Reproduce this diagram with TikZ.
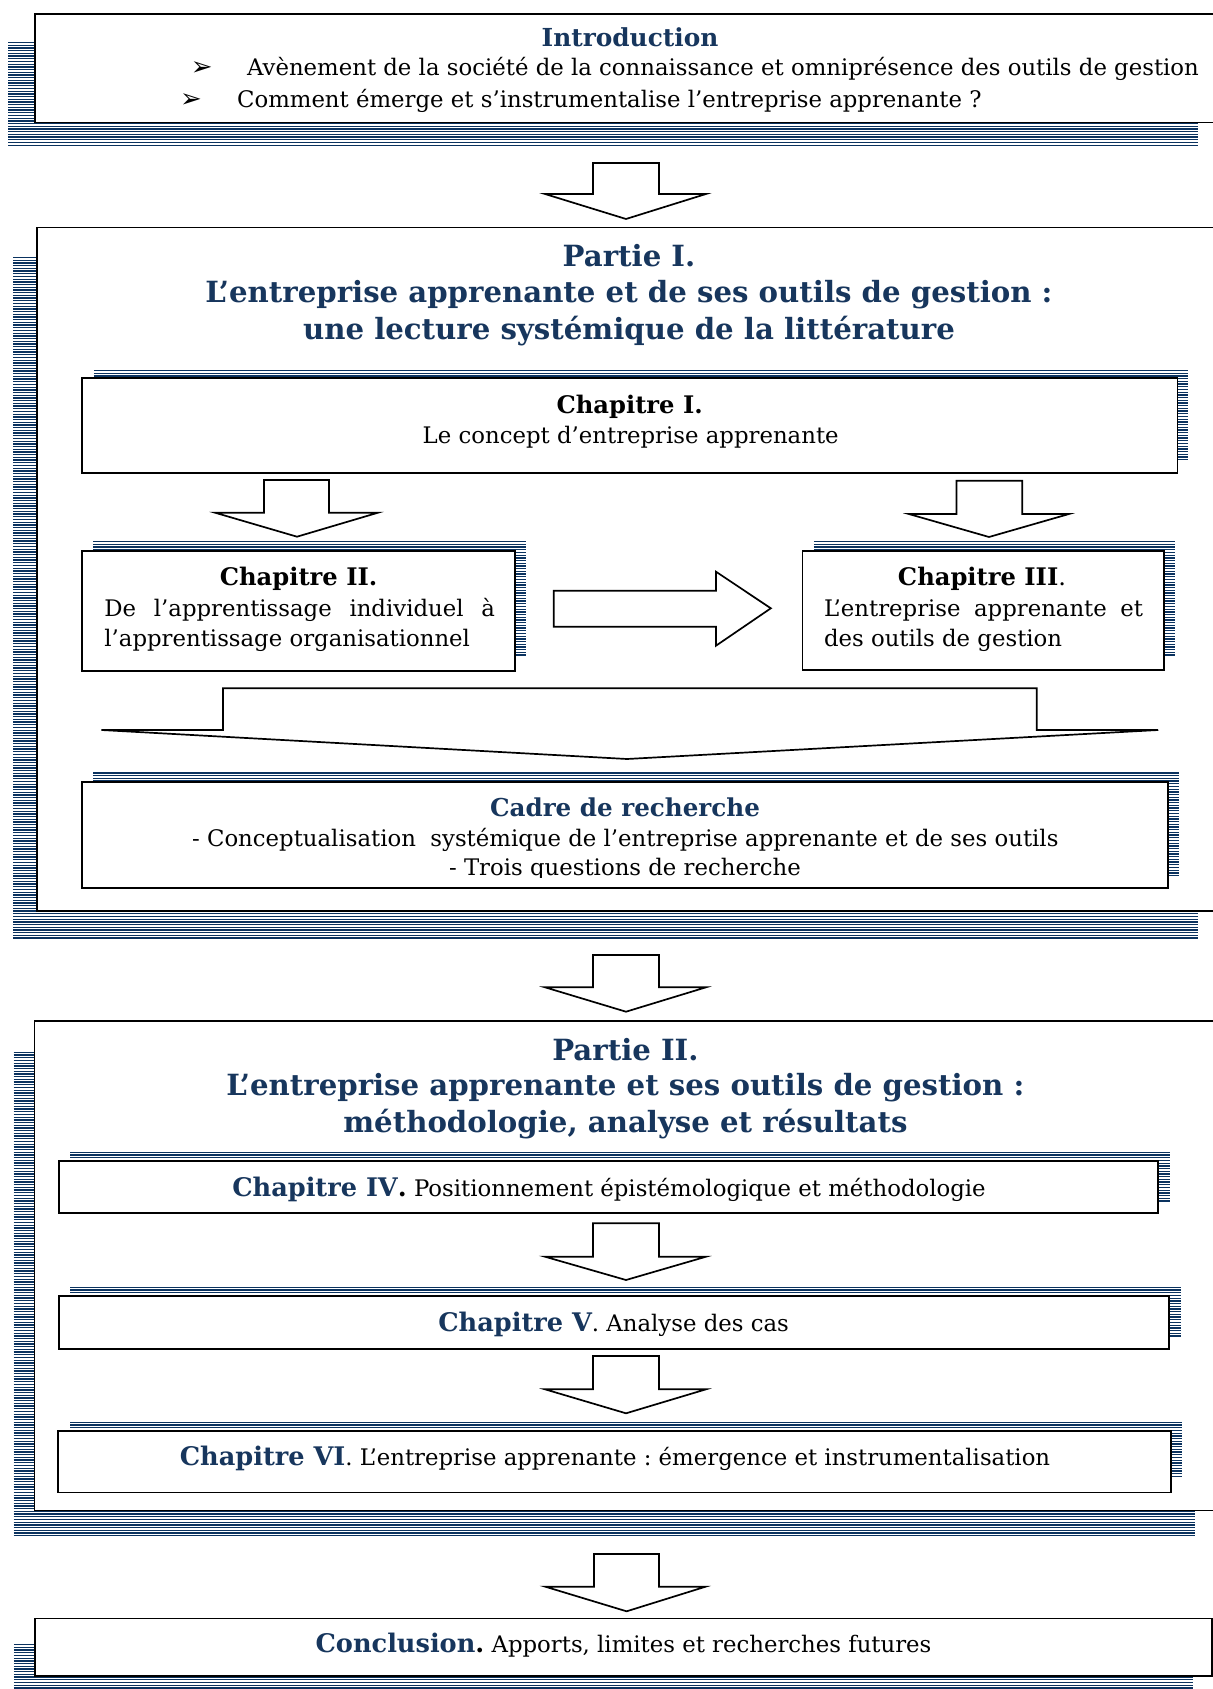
\documentclass[tikz,border=0pt]{standalone}
\usepackage{fontspec}
\setmainfont{DejaVu Serif}
\newfontfamily\symfont{DejaVu Sans}
\usetikzlibrary{fit}
\frenchspacing
\definecolor{navy}{RGB}{23,54,93}
\definecolor{stripenavy}{RGB}{10,50,95}
\newcommand\hatchrect[4]{%
  \pgfmathtruncatemacro\hn{(#4-#2-0.65)/2.7}%
  \foreach \i in {0,...,\hn}{\pgfmathsetmacro\yy{#2+0.65+2.7*\i}\draw[stripe] (#1,\yy) -- (#3,\yy);}}
\newcommand\navyhead[1]{{\fontsize{12.8}{14}\selectfont\bfseries\color{navy}#1}}
\tikzset{
  outerbox/.style={draw=black, line width=0.8pt, fill=white, inner sep=0pt},
  chapbox/.style={draw=black, line width=0.9pt, fill=white, inner sep=0pt},
  blockarrow/.style={draw=black, line width=0.85pt, fill=white, line join=miter},
  stripe/.style={draw=stripenavy, line width=0.65pt},
  txt/.style={inner sep=0pt, font=\fontsize{11.4}{13}\selectfont, anchor=base},
  txtw/.style={inner sep=0pt, font=\fontsize{11.4}{13}\selectfont, anchor=base west},
  ttl/.style={inner sep=0pt, font=\fontsize{14.6}{17}\selectfont\bfseries, text=navy, anchor=base},
  hd/.style={inner sep=0pt, font=\fontsize{12.1}{14}\selectfont\bfseries, anchor=base},
  bullet/.style={inner sep=0pt, font=\fontsize{13}{14}\symfont, anchor=base},
}
\begin{document}
\begin{tikzpicture}[x=0.5pt,y=-0.5pt]
\useasboundingbox (0,0) rectangle (1213,1689);
\clip (0,0) rectangle (1213,1689);

% ---------- Introduction ----------
\hatchrect{8}{42}{1198}{147.7}
\node[outerbox, fit={(34.7,14) (1230,122.7)}] (intro) {};
\node[hd, text=navy, font=\fontsize{12.4}{14}\selectfont\bfseries] (introT) at (630,46.7) {Introduction};
\node[bullet] (b1) at (201.7,76) {➢};
\node[txtw] (i1) at (246.7,76) {Avènement de la société de la connaissance et omniprésence des outils de gestion};
\node[bullet] (b2) at (191,107.3) {➢};
\node[txtw] (i2) at (236.7,107.3) {Comment émerge et s’instrumentalise l’entreprise apprenante ?};

% ---------- arrow 1 ----------
\draw[blockarrow] (593,163) -- (659,163) -- (659,194) -- (706,194) -- (626,219) -- (545,194) -- (593,194) -- cycle;

% ---------- Partie I ----------
\hatchrect{13.4}{257}{1198}{938.3}
\node[outerbox, fit={(37,227.7) (1230,910.7)}] (p1) {};
\node[ttl] (p1a) at (629,266.7) {Partie I.};
\node[ttl] (p1b) at (629,302.7) {L’entreprise apprenante et de ses outils de gestion :};
\node[ttl] (p1c) at (629,339.3) {une lecture systémique de la littérature};

% Chapitre I
\hatchrect{93.8}{370}{1188.3}{460}
\node[chapbox, fit={(82.3,378) (1177.4,472.7)}] (c1) {};
\node[hd] (c1a) at (629.7,413.3) {Chapitre I.};
\node[txt] (c1b) at (630.7,443.3) {Le concept d’entreprise apprenante};

% arrows from Chapitre I
\draw[blockarrow] (264,480) -- (329,480) -- (329,512.7) -- (378,512.7) -- (297,536.7) -- (215,512.7) -- (264,512.7) -- cycle;
\draw[blockarrow] (956.5,480.7) -- (1022.2,480.7) -- (1022.2,514) -- (1069,514) -- (989,537) -- (908.8,514) -- (956.5,514) -- cycle;

% Chapitre II
\hatchrect{93}{541}{526}{656.7}
\node[chapbox, fit={(82.3,550.7) (514.7,670.7)}] (c2) {};
\node[hd] (c2a) at (298.6,585) {Chapitre II.};
\node[txtw] (c2b) at (104,616.7) {\makebox[195.25pt][s]{De l’apprentissage individuel à}};
\node[txtw] (c2c) at (104,646) {l’apprentissage organisationnel};

% Chapitre III
\hatchrect{813.8}{541}{1174.7}{656.7}
\node[chapbox, fit={(802.5,550.7) (1163.7,670)}] (c3) {};
\node[hd] (c3a) at (982,585) {Chapitre III\mdseries.};
\node[txtw] (c3b) at (823.6,616.7) {\makebox[159.5pt][s]{L’entreprise apprenante et}};
\node[txtw] (c3c) at (823.6,646) {des outils de gestion};

% right arrow
\draw[blockarrow] (553.8,590.7) -- (716,590.7) -- (716,571.7) -- (770.8,608.3) -- (716,645.7) -- (716,626.7) -- (553.8,626.7) -- cycle;

% merge arrow
\draw[blockarrow] (223,688.3) -- (1036.7,688.3) -- (1036.7,730) -- (1158.2,730) -- (627,759) -- (101.4,730) -- (223,730) -- cycle;

% Cadre de recherche
\hatchrect{93}{772.3}{1178.6}{877.3}
\node[chapbox, fit={(82.3,782) (1167.6,888.3)}] (cadre) {};
\node[hd, text=navy, font=\fontsize{12.3}{14}\selectfont\bfseries] (cda) at (625,816.7) {Cadre de recherche};
\node[txt] (cdb) at (625.3,846) {- Conceptualisation~ systémique de l’entreprise apprenante et de ses outils};
\begin{scope}
\clip (82,782) rectangle (1168,877.5);
\node[txt] (cdc) at (625,875) {- Trois questions de recherche};
\end{scope}

% ---------- arrow 4 ----------
\draw[blockarrow] (593,955) -- (659,955) -- (659,987.3) -- (706,987.3) -- (626,1011.7) -- (545,987.3) -- (593,987.3) -- cycle;

% ---------- Partie II ----------
\hatchrect{13.6}{1051.7}{1195}{1538}
\node[outerbox, fit={(34.4,1020.7) (1230,1510.5)}] (p2) {};
\node[ttl] (p2a) at (625.4,1060.7) {Partie II.};
\node[ttl] (p2b) at (625.4,1095.7) {L’entreprise apprenante et ses outils de gestion :};
\node[ttl] (p2c) at (625.4,1132.3) {méthodologie, analyse et résultats};

% Chapitre IV
\hatchrect{70}{1151.7}{1170}{1201.7}
\node[chapbox, fit={(58.6,1160.7) (1158.2,1213.3)}] (c4) {};
\node[txt] (c4t) at (609,1196) {\navyhead{Chapitre IV}{\fontsize{12.8}{14}\selectfont\bfseries.} Positionnement épistémologique et méthodologie};

\draw[blockarrow] (593,1223.3) -- (659,1223.3) -- (659,1256.7) -- (706,1256.7) -- (626,1280) -- (545,1256.7) -- (593,1256.7) -- cycle;

% Chapitre V
\hatchrect{70}{1286.7}{1180.5}{1338.3}
\node[chapbox, fit={(58.6,1295.7) (1168.8,1349.3)}] (c5) {};
\node[txt] (c5t) at (613.6,1331.7) {\navyhead{Chapitre V}. Analyse des cas};

\draw[blockarrow] (593,1356) -- (659,1356) -- (659,1389.3) -- (706,1389.3) -- (626,1413.3) -- (545,1389.3) -- (593,1389.3) -- cycle;

% Chapitre VI
\hatchrect{70}{1421.7}{1182}{1479}
\node[chapbox, fit={(58,1430.7) (1171,1492.5)}] (c6) {};
\node[txt] (c6t) at (615,1465) {\navyhead{Chapitre VI}. L’entreprise apprenante : émergence et instrumentalisation};

% ---------- arrow 7 ----------
\draw[blockarrow] (594,1554) -- (659,1554) -- (659,1586.7) -- (705.5,1586.7) -- (626.6,1611.3) -- (545.4,1586.7) -- (594,1586.7) -- cycle;

% ---------- Conclusion ----------
\hatchrect{13.9}{1644}{1193}{1700}
\node[outerbox, fit={(34.8,1618.5) (1212,1676)}] (concl) {};
\node[txt] (cct) at (623.5,1652.3) {\navyhead{Conclusion}{\fontsize{12.8}{14}\selectfont\bfseries.} Apports, limites et recherches futures};
\end{tikzpicture}
\end{document}
